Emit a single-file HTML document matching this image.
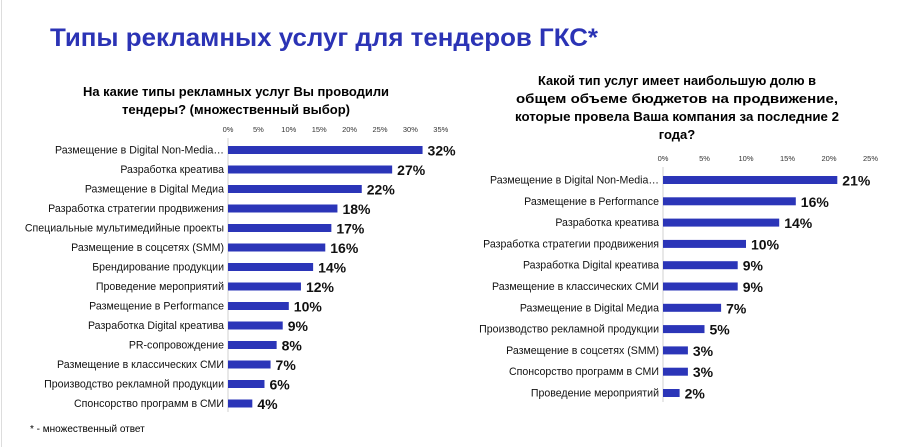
<!DOCTYPE html>
<html><head><meta charset="utf-8"><style>
body{margin:0;background:#fff}
svg{display:block;font-family:"Liberation Sans","DejaVu Sans",sans-serif}
</style></head><body>
<svg id="s" width="900" height="447" viewBox="0 0 900 447">
<line x1="1.5" y1="0" x2="1.5" y2="447" stroke="#ddd"/>
<text x="50" y="46" font-size="25" font-weight="bold" fill="#2b33b5" textLength="548" lengthAdjust="spacingAndGlyphs">Типы рекламных услуг для тендеров ГКС*</text>
<text x="236" y="96" font-size="13" font-weight="bold" text-anchor="middle" textLength="306" lengthAdjust="spacingAndGlyphs">На какие типы рекламных услуг Вы проводили</text>
<text x="236" y="114" font-size="13" font-weight="bold" text-anchor="middle" textLength="228" lengthAdjust="spacingAndGlyphs">тендеры? (множественный выбор)</text>
<text x="677" y="85" font-size="13" font-weight="bold" text-anchor="middle" textLength="278" lengthAdjust="spacingAndGlyphs">Какой тип услуг имеет наибольшую долю в</text>
<text x="677" y="103" font-size="13" font-weight="bold" text-anchor="middle" textLength="322" lengthAdjust="spacingAndGlyphs">общем объеме бюджетов на продвижение,</text>
<text x="677" y="121" font-size="13" font-weight="bold" text-anchor="middle" textLength="324" lengthAdjust="spacingAndGlyphs">которые провела Ваша компания за последние 2</text>
<text x="677" y="139" font-size="13" font-weight="bold" text-anchor="middle">года?</text>
<text x="30" y="432" font-size="10">* - множественный ответ</text>
<g id="L"></g><g id="R"></g>
</svg>
<script>
const leftCats=["Размещение в Digital Non-Media…","Разработка креатива","Размещение в Digital Медиа","Разработка стратегии продвижения","Специальные мультимедийные проекты","Размещение в соцсетях (SMM)","Брендирование продукции","Проведение мероприятий","Размещение в Performance","Разработка Digital креатива","PR-сопровождение","Размещение в классических СМИ","Производство рекламной продукции","Спонсорство программ в СМИ"];
const leftVals=[32,27,22,18,17,16,14,12,10,9,8,7,6,4];
const leftTicks=[0,5,10,15,20,25,30,35];
const rightCats=["Размещение в Digital Non-Media…","Размещение в Performance","Разработка креатива","Разработка стратегии продвижения","Разработка Digital креатива","Размещение в классических СМИ","Размещение в Digital Медиа","Производство рекламной продукции","Размещение в соцсетях (SMM)","Спонсорство программ в СМИ","Проведение мероприятий"];
const rightVals=[21,16,14,10,9,9,7,5,3,3,2];
const rightTicks=[0,5,10,15,20,25];
const NS="http://www.w3.org/2000/svg";
function mk(g,tag,attrs,txt){const e=document.createElementNS(NS,tag);for(const k in attrs)e.setAttribute(k,attrs[k]);if(txt!=null)e.textContent=txt;g.appendChild(e);return e;}
function chart(gid,cats,vals,ticks,x0,pxPer,tickY,y0,step,axBottom,prefix){
  const g=document.getElementById(gid);
  const sx=v=>x0+v*pxPer;
  const ys=i=>y0+i*step;
  ticks.forEach(t=>{const e=mk(g,'text',{x:sx(t),y:tickY,'font-size':7.5,'text-anchor':'middle',fill:'#333'},t+'%');
    
    });
  const ax=mk(g,'line',{x1:x0,x2:x0,y1:tickY+6,y2:axBottom,stroke:'#d0d0d0'});
  
  
  cats.forEach((c,i)=>{const y=ys(i);
    const l=mk(g,'text',{x:x0-4,y:y+3.5,'font-size':10.6,'text-anchor':'end',fill:'#111'},c);
    
    
    const b=mk(g,'rect',{x:x0,y:y-4,width:sx(vals[i])-x0,height:8,fill:'#2b35b8'});
    
    
    const v=mk(g,'text',{x:sx(vals[i])+5,y:y+5.5,'font-size':14,'font-weight':'bold',fill:'#111'},vals[i]+'%');
    
    
  });
}
chart('L',leftCats,leftVals,leftTicks,228,6.08,132,150,19.5,412,'left');
chart('R',rightCats,rightVals,rightTicks,663,8.3,161,180,21.3,402,'right');
</script>
</body></html>
